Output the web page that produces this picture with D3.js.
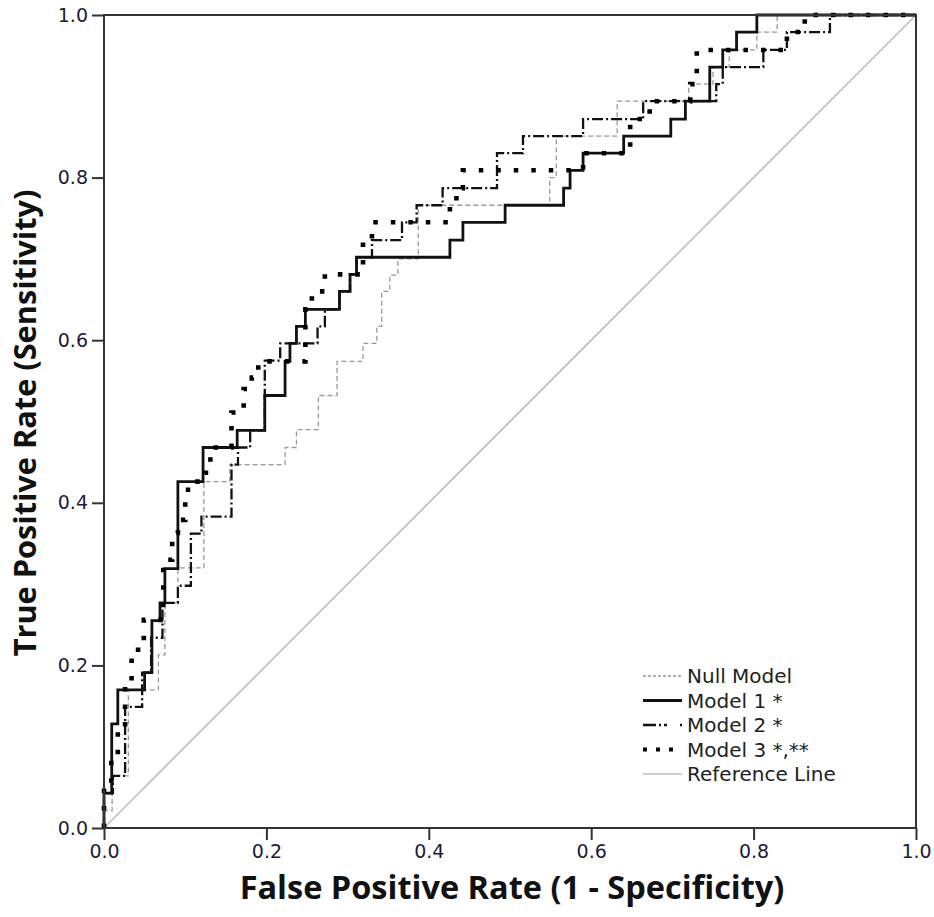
<!DOCTYPE html>
<html>
<head>
<style>
  body { margin: 0; background: #fff; }
  svg { display: block; }
</style>
</head>
<body>
<script src="https://d3js.org/d3.v7.min.js"></script>
<div id="chart"></div>
<script>
// ROC points, [false positive rate, true positive rate]
const nullModel = [[0,0],[0,0.021],[0.01,0.021],[0.01,0.064],[0.03,0.064],[0.03,0.17],[0.067,0.17],[0.067,0.213],
  [0.075,0.213],[0.075,0.277],[0.091,0.277],[0.091,0.32],[0.123,0.32],[0.123,0.426],[0.155,0.426],[0.155,0.447],
  [0.223,0.447],[0.223,0.468],[0.237,0.468],[0.237,0.49],[0.264,0.49],[0.264,0.532],[0.287,0.532],[0.287,0.574],
  [0.319,0.574],[0.319,0.596],[0.336,0.596],[0.336,0.617],[0.342,0.617],[0.342,0.66],[0.352,0.66],[0.352,0.68],
  [0.362,0.68],[0.362,0.70],[0.387,0.70],[0.387,0.766],[0.549,0.766],[0.549,0.80],[0.557,0.80],[0.557,0.851],
  [0.632,0.851],[0.632,0.894],[0.72,0.894],[0.72,0.915],[0.75,0.915],[0.75,0.936],[0.77,0.936],[0.77,0.957],
  [0.804,0.957],[0.804,0.979],[0.829,0.979],[0.829,1],[1,1]];

const model1 = [[0,0],[0,0.043],[0.0095,0.043],[0.0095,0.128],[0.017,0.128],[0.017,0.170],[0.05,0.170],[0.05,0.191],
  [0.059,0.191],[0.059,0.255],[0.069,0.255],[0.069,0.277],[0.075,0.277],[0.075,0.319],[0.091,0.319],[0.091,0.426],
  [0.122,0.426],[0.122,0.468],[0.164,0.468],[0.164,0.489],[0.198,0.489],[0.198,0.532],[0.223,0.532],[0.223,0.574],
  [0.229,0.574],[0.229,0.596],[0.237,0.596],[0.237,0.617],[0.248,0.617],[0.248,0.638],[0.29,0.638],[0.29,0.66],
  [0.303,0.66],[0.303,0.681],[0.311,0.681],[0.311,0.702],[0.426,0.702],[0.426,0.723],[0.442,0.723],[0.442,0.745],
  [0.494,0.745],[0.494,0.766],[0.566,0.766],[0.566,0.787],[0.574,0.787],[0.574,0.809],[0.59,0.809],[0.59,0.83],
  [0.64,0.83],[0.64,0.851],[0.698,0.851],[0.698,0.872],[0.716,0.872],[0.716,0.894],[0.746,0.894],[0.746,0.936],
  [0.762,0.936],[0.762,0.957],[0.779,0.957],[0.779,0.979],[0.804,0.979],[0.804,1],[1,1]];

const model2 = [[0,0],[0,0.043],[0.011,0.043],[0.011,0.064],[0.026,0.064],[0.026,0.149],[0.047,0.149],[0.047,0.191],
  [0.058,0.191],[0.058,0.234],[0.072,0.234],[0.072,0.277],[0.091,0.277],[0.091,0.298],[0.107,0.298],[0.107,0.362],
  [0.12,0.362],[0.12,0.383],[0.157,0.383],[0.157,0.447],[0.165,0.447],[0.165,0.468],[0.18,0.468],[0.18,0.489],
  [0.198,0.489],[0.198,0.575],[0.217,0.575],[0.217,0.596],[0.263,0.596],[0.263,0.617],[0.272,0.617],[0.272,0.638],
  [0.29,0.638],[0.29,0.66],[0.303,0.66],[0.303,0.681],[0.311,0.681],[0.311,0.702],[0.33,0.702],[0.33,0.723],
  [0.367,0.723],[0.367,0.745],[0.385,0.745],[0.385,0.766],[0.417,0.766],[0.417,0.787],[0.484,0.787],[0.484,0.83],
  [0.516,0.83],[0.516,0.851],[0.59,0.851],[0.59,0.872],[0.664,0.872],[0.664,0.894],[0.754,0.894],[0.754,0.915],
  [0.762,0.915],[0.762,0.936],[0.812,0.936],[0.812,0.957],[0.841,0.957],[0.841,0.979],[0.894,0.979],[0.894,1],[1,1]];

const model3 = [[0,0],[0,0.049],[0.009,0.049],[0.009,0.088],[0.017,0.088],[0.017,0.123],[0.026,0.123],[0.026,0.18],
  [0.034,0.18],[0.034,0.215],[0.042,0.215],[0.042,0.229],[0.049,0.229],[0.049,0.256],[0.073,0.256],[0.073,0.33],
  [0.084,0.33],[0.084,0.363],[0.091,0.363],[0.091,0.379],[0.1,0.379],[0.1,0.416],[0.11,0.416],[0.11,0.426],
  [0.124,0.426],[0.124,0.437],[0.131,0.437],[0.131,0.468],[0.157,0.468],[0.157,0.511],[0.172,0.511],[0.172,0.54],
  [0.182,0.54],[0.182,0.554],[0.19,0.554],[0.19,0.574],[0.248,0.574],[0.248,0.638],[0.256,0.638],[0.256,0.66],
  [0.272,0.66],[0.272,0.681],[0.319,0.681],[0.319,0.723],[0.33,0.723],[0.33,0.745],[0.426,0.745],[0.426,0.766],
  [0.434,0.766],[0.434,0.787],[0.442,0.787],[0.442,0.809],[0.59,0.809],[0.59,0.83],[0.648,0.83],[0.648,0.872],
  [0.672,0.872],[0.672,0.894],[0.722,0.894],[0.722,0.915],[0.73,0.915],[0.73,0.957],[0.841,0.957],[0.841,0.979],
  [0.863,0.979],[0.863,1],[1,1]];

const referenceLine = [[0,0],[1,1]];

const tickValues = [0, 0.2, 0.4, 0.6, 0.8, 1.0];
const legendLabels = ['Null Model', 'Model 1 *', 'Model 2 *', 'Model 3 *,**', 'Reference Line'];

const width = 934, height = 917;
const margin = {top: 15, left: 104, right: 18, bottom: 89};
const w = width - margin.left - margin.right;
const h = height - margin.top - margin.bottom;

const svg = d3.select('#chart').append('svg')
  .attr('width', width)
  .attr('height', height);

const g = svg.append('g')
  .attr('transform', `translate(${margin.left},${margin.top})`);

const x = d3.scaleLinear().domain([0, 1]).range([0, w]);
const y = d3.scaleLinear().domain([0, 1]).range([h, 0]);

const styles = [
  {data: nullModel, stroke: '#9a9a9a', width: 1.3, dash: '5,3'},
  {data: model1, stroke: '#111', width: 2.8, dash: null},
  {data: model2, stroke: '#111', width: 2.3, dash: '11,3,2,3'},
  {data: model3, stroke: '#000', width: 4.6, dash: '4.5,13'},
  {data: referenceLine, stroke: '#bdbdbd', width: 1.6, dash: null}
];

const line = d3.line().x(d => x(d[0])).y(d => y(d[1]));

// reference diagonal first, then the models on top
const drawOrder = [4, 0, 2, 1, 3];
drawOrder.forEach(i => {
  const s = styles[i];
  g.append('path')
    .datum(s.data)
    .attr('d', line)
    .attr('fill', 'none')
    .attr('stroke', s.stroke)
    .attr('stroke-width', s.width)
    .attr('stroke-dasharray', s.dash);
});

// frame
g.append('rect')
  .attr('width', w).attr('height', h)
  .attr('fill', 'none')
  .attr('stroke', '#333')
  .attr('stroke-width', 2);

const fmt = d3.format('.1f');
const xAxis = g.append('g')
  .attr('transform', `translate(0,${h})`)
  .call(d3.axisBottom(x).tickValues(tickValues).tickFormat(fmt).tickSize(12).tickPadding(5));
const yAxis = g.append('g')
  .call(d3.axisLeft(y).tickValues(tickValues).tickFormat(fmt).tickSize(12).tickPadding(4));

[xAxis, yAxis].forEach(a => {
  a.select('.domain').remove();
  a.selectAll('.tick line').attr('stroke', '#333').attr('stroke-width', 2);
  a.selectAll('.tick text')
    .attr('fill', '#1c1c3a')
    .style('font-family', '"DejaVu Sans", sans-serif')
    .style('font-size', '19px');
});

// axis titles, sized to the widths in the picture
function fitTitle(sel, target) {
  const len = sel.node().getComputedTextLength();
  sel.style('font-size', (24 * target / len) + 'px');
}

const xTitle = svg.append('text')
  .attr('x', margin.left + w / 2 + 2)
  .attr('y', 899)
  .attr('text-anchor', 'middle')
  .style('font-family', '"Open Sans", sans-serif')
  .style('font-weight', 700)
  .style('font-size', '24px')
  .attr('fill', '#111')
  .text('False Positive Rate (1 - Specificity)');
fitTitle(xTitle, 545);

const yTitle = svg.append('text')
  .attr('transform', 'translate(36,423) rotate(-90)')
  .attr('text-anchor', 'middle')
  .style('font-family', '"Open Sans", sans-serif')
  .style('font-weight', 700)
  .style('font-size', '24px')
  .attr('fill', '#111')
  .text('True Positive Rate (Sensitivity)');
fitTitle(yTitle, 467);

// legend
const legendDash = ['3,2', null, '13,3,2,3,3', '4,9', null];
const legend = svg.append('g').attr('transform', 'translate(643,676)');
legendLabels.forEach((label, i) => {
  const s = styles[i];
  const row = legend.append('g').attr('transform', `translate(0,${i * 24.5})`);
  row.append('line')
    .attr('x1', 0).attr('x2', 39)
    .attr('y1', 0).attr('y2', 0)
    .attr('stroke', s.stroke)
    .attr('stroke-width', i === 3 ? 4 : s.width)
    .attr('stroke-dasharray', legendDash[i]);
  row.append('text')
    .attr('x', 44)
    .attr('y', 0)
    .attr('dy', '0.36em')
    .style('font-family', '"DejaVu Sans", sans-serif')
    .style('font-size', '20px')
    .attr('fill', '#222')
    .text(label);
});
</script>
</body>
</html>
